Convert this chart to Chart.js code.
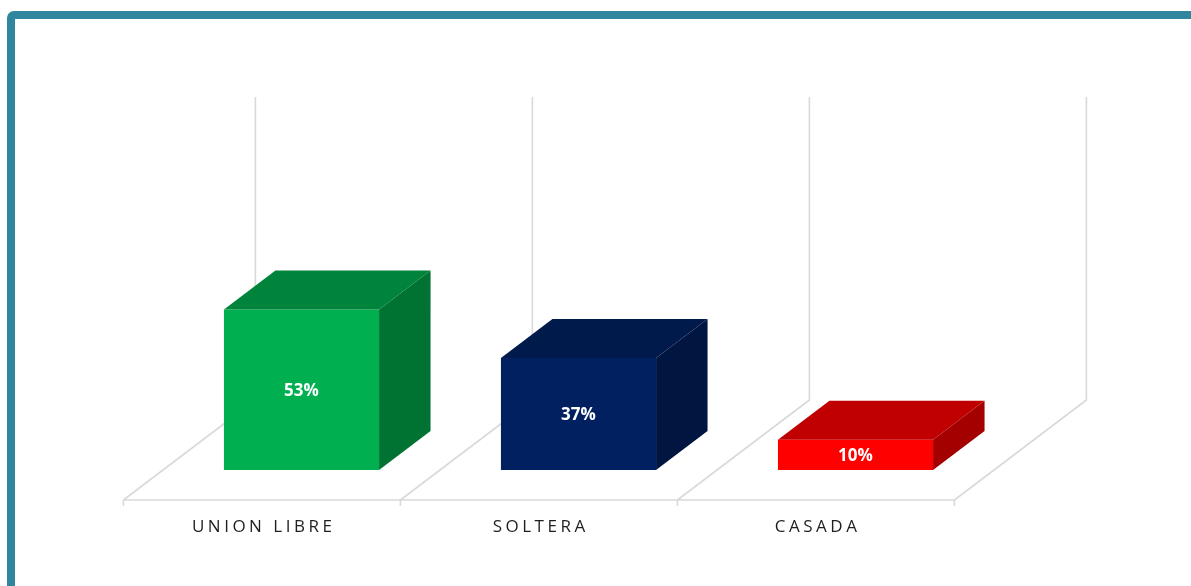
<!DOCTYPE html>
<html>
<head>
<meta charset="utf-8">
<script src="https://cdn.jsdelivr.net/npm/chart.js@4.4.1/dist/chart.umd.min.js"></script>
<style>
  html, body { margin: 0; padding: 0; background: #fff; overflow: hidden; }
  #frame { position: absolute; left: 7px; top: 11px; width: 1210px; height: 610px;
           border: 8px solid #30869e; border-radius: 7px; box-sizing: border-box; }
  #wrap { position: absolute; left: 0; top: 0; width: 1191px; height: 586px; }
</style>
</head>
<body>
<div id="frame"></div>
<div id="wrap"><canvas id="chart"></canvas></div>
<script>
const categories = ['UNION LIBRE', 'SOLTERA', 'CASADA'];
const values = [53, 37, 10];
const yMax = 100;

const frontColors = ['#00b050', '#002060', '#ff0000'];
const topColors   = ['#00843c', '#001a4c', '#c00000'];
const sideColors  = ['#007232', '#001641', '#a50000'];

// floor depth vector; bars stand part-way back and take a slice of the depth
const DEPTH = { dx: 132, dy: -100 };
const BAR_AT = 0.3;
const BAR_DEPTH = 0.39;
const LETTER_SPACING = 3.5;

// floor outline, back-wall uprights and the little ticks under the front edge
const floor3d = {
  id: 'floor3d',
  beforeDatasetsDraw(chart) {
    const { ctx, scales: { x, y } } = chart;
    ctx.letterSpacing = '0px';
    const n = categories.length;
    const base = y.getPixelForValue(0);
    const top = y.getPixelForValue(yMax);
    const fx = -BAR_AT * DEPTH.dx, fy = -BAR_AT * DEPTH.dy;
    const bx = (1 - BAR_AT) * DEPTH.dx, by = (1 - BAR_AT) * DEPTH.dy;
    const left = x.getPixelForValue(-0.5), right = x.getPixelForValue(n - 0.5);

    ctx.save();
    ctx.strokeStyle = '#d9d9d9';
    ctx.lineWidth = 1.6;
    ctx.beginPath();
    ctx.moveTo(left + fx, base + fy);
    ctx.lineTo(right + fx, base + fy);
    for (let i = 0; i <= n; i++) {
      const px = x.getPixelForValue(i - 0.5);
      ctx.moveTo(px + fx, base + fy);
      ctx.lineTo(px + bx, base + by);
      ctx.lineTo(px + bx, top + by);
      ctx.moveTo(px + fx, base + fy);
      ctx.lineTo(px + fx, base + fy + 6);
    }
    ctx.stroke();
    ctx.restore();
  }
};

// top and side faces of each box, plus the value inside the front face
const bars3d = {
  id: 'bars3d',
  afterDatasetsDraw(chart) {
    const { ctx } = chart;
    const dx = DEPTH.dx * BAR_DEPTH, dy = DEPTH.dy * BAR_DEPTH;
    chart.getDatasetMeta(0).data.forEach((bar, i) => {
      const { x, y, base, width } = bar.getProps(['x', 'y', 'base', 'width'], true);
      const l = x - width / 2, r = x + width / 2;
      ctx.save();
      ctx.fillStyle = topColors[i];
      ctx.beginPath();
      ctx.moveTo(l, y); ctx.lineTo(l + dx, y + dy); ctx.lineTo(r + dx, y + dy); ctx.lineTo(r, y);
      ctx.closePath(); ctx.fill();
      ctx.fillStyle = sideColors[i];
      ctx.beginPath();
      ctx.moveTo(r, y); ctx.lineTo(r + dx, y + dy); ctx.lineTo(r + dx, base + dy); ctx.lineTo(r, base);
      ctx.closePath(); ctx.fill();
      ctx.fillStyle = '#ffffff';
      ctx.font = 'bold 17px "Open Sans", sans-serif';
      ctx.textAlign = 'center';
      ctx.textBaseline = 'middle';
      ctx.fillText(values[i] + '%', x, (y + base) / 2 + 1);
      ctx.restore();
    });
  }
};

// spaced-out category labels
const spacedLabels = {
  id: 'spacedLabels',
  beforeDraw(chart) { chart.ctx.letterSpacing = LETTER_SPACING + 'px'; }
};

new Chart(document.getElementById('chart'), {
  type: 'bar',
  data: {
    labels: categories,
    datasets: [{
      data: values,
      backgroundColor: frontColors,
      borderWidth: 0,
      categoryPercentage: 1,
      barPercentage: 0.56
    }]
  },
  options: {
    responsive: true,
    maintainAspectRatio: false,
    animation: false,
    layout: { padding: { left: 163, right: 197, top: 167, bottom: 0 } },
    plugins: { legend: { display: false }, tooltip: { enabled: false } },
    scales: {
      y: { display: false, min: 0, max: yMax },
      x: {
        grid: { display: false, drawTicks: false },
        border: { display: false },
        afterFit(scale) { scale.height = 116; },
        ticks: {
          padding: 47,
          autoSkip: false,
          maxRotation: 0,
          labelOffset: -BAR_AT * DEPTH.dx + LETTER_SPACING / 2,
          color: '#1f1f1f',
          font: { family: '"Open Sans", sans-serif', size: 17 }
        }
      }
    }
  },
  plugins: [spacedLabels, floor3d, bars3d]
});
</script>
</body>
</html>
